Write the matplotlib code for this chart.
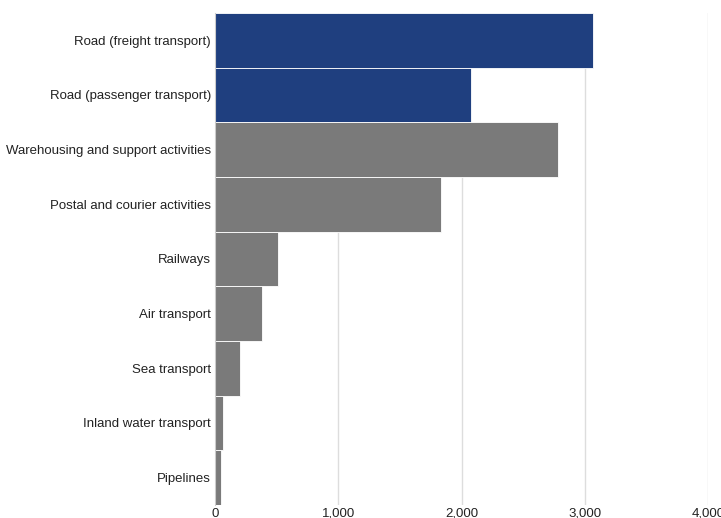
import matplotlib
matplotlib.use("Agg")
import matplotlib.pyplot as plt

categories = ["Road (freight transport)", "Road (passenger transport)",
              "Warehousing and support activities", "Postal and courier activities",
              "Railways", "Air transport", "Sea transport",
              "Inland water transport", "Pipelines"]
values = [3066, 2076, 2782, 1833, 511, 381, 203, 65, 49]
highlight = [True, True, False, False, False, False, False, False, False]
x_ticks = [0, 1000, 2000, 3000, 4000]
x_tick_labels = ["0", "1,000", "2,000", "3,000", "4,000"]

plt.rcParams['font.family'] = ['Liberation Sans', 'DejaVu Sans']

fig = plt.figure(figsize=(7.21, 5.18), dpi=100)
ax = fig.add_axes([215/721, 1-505/518, (708-215)/721, (505-13)/518])

colors = ["#1f3f7f" if h else "#7a7a7a" for h in highlight]
ax.barh(range(len(categories)), values, height=1.0, color=colors,
        edgecolor="white", linewidth=0.6, zorder=2)

ax.set_ylim(len(categories)-0.5, -0.5)
ax.set_xlim(0, 4000)
ax.set_xticks(x_ticks)
ax.set_xticklabels(x_tick_labels)
ax.set_yticks(range(len(categories)))
ax.set_yticklabels(categories)
ax.tick_params(axis='both', length=0, labelsize=9.5, colors="#222222")
ax.tick_params(axis='x', pad=2)
ax.tick_params(axis='y', pad=3)
ax.xaxis.grid(True, color="#dddddd", linewidth=1, zorder=0)
ax.set_axisbelow(True)
for s in ["top", "right", "bottom"]:
    ax.spines[s].set_visible(False)
ax.spines["left"].set_color("#cccccc")
ax.spines["left"].set_linewidth(0.8)

fig.savefig("out.png", dpi=100)
